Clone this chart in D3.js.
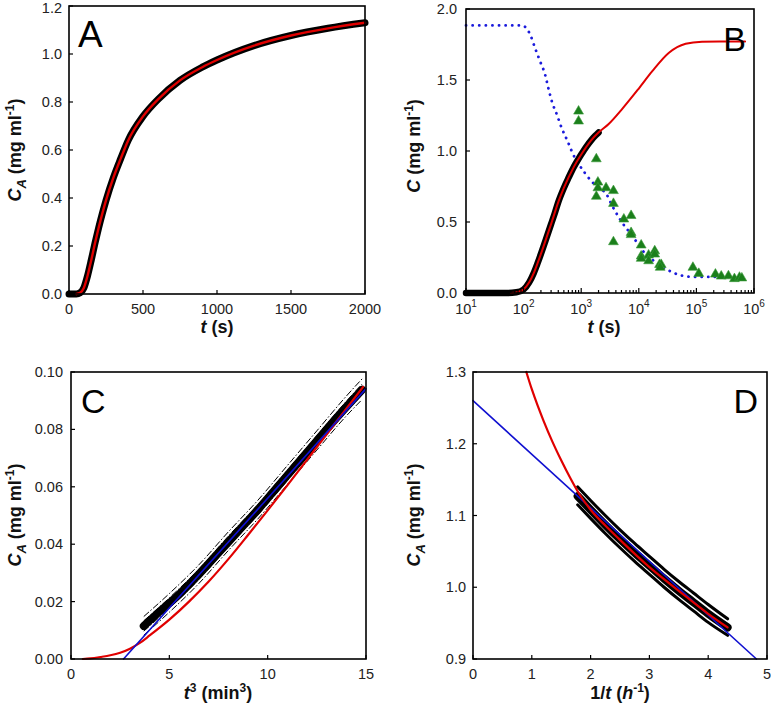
<!DOCTYPE html>
<html><head><meta charset="utf-8">
<script src="https://cdn.jsdelivr.net/npm/d3@7"></script>
<style>
body{margin:0;background:#fff;}
svg{display:block;font-family:"Liberation Sans",Arial,Helvetica,sans-serif;}
</style></head><body>
<svg id="chart" width="771" height="707"></svg>
<script>
// ---------- Panel A data ----------
const aTime = [0,25,50,75,100,125,150,175,200,225,250,300,350,400,500,600,750,900,1000,1250,1500,1750,2000];
const aConc = [0,0,0,0.005,0.025,0.075,0.14,0.21,0.275,0.335,0.39,0.485,0.565,0.64,0.74,0.81,0.89,0.945,0.975,1.035,1.077,1.107,1.13];
const aTicksX = [0,500,1000,1500,2000];
const aTicksY = [0,0.2,0.4,0.6,0.8,1.0,1.2];

// ---------- Panel B data ----------
const bEarlyTime = [10,15,20];
const bEarlyConc = [0,0,0];
const bFitTime = [60,80,100,125,150,175,200,250,300,400,500,750,1000,1500,2000,3000,5000,10000,17000,33000,65000,125000,250000,700000];
const bFitConc = [0,0.008,0.025,0.075,0.14,0.21,0.275,0.39,0.485,0.64,0.74,0.89,0.975,1.077,1.13,1.19,1.29,1.44,1.56,1.69,1.755,1.77,1.772,1.772];
const bDotTime = [10,93,130,158,194,237,270,309,380,460,550,630,690,890,1170,1540,2140,2800,3400,4450,5800,7550,10400,13700,19200,26600,37700,52600,90000,650000];
const bDotConc = [1.884,1.884,1.82,1.725,1.63,1.536,1.44,1.35,1.254,1.16,1.09,1.035,0.995,0.913,0.843,0.783,0.737,0.69,0.62,0.536,0.466,0.41,0.325,0.266,0.22,0.18,0.148,0.125,0.113,0.113];
const bTriTime = [900,900,1830,1950,1950,1830,2700,3630,3630,3630,5500,7350,7350,7350,11000,11000,11000,14800,14800,18900,18900,22900,24500,23500,87000,110000,214000,270000,360000,457000,560000,615000];
const bTriConc = [1.28,1.21,0.944,0.78,0.74,0.68,0.74,0.72,0.63,0.36,0.52,0.545,0.425,0.41,0.337,0.26,0.243,0.266,0.226,0.296,0.273,0.2,0.2,0.18,0.18,0.137,0.132,0.118,0.12,0.1,0.11,0.105];
const bTicksY = [0,0.5,1.0,1.5,2.0];
const bDecades = [1,2,3,4,5,6];

// ---------- Panel C data ----------
const cDataX = [3.7,4.5,5.5,6.5,7.5,8.5,9.5,10.5,11.5,12.5,13.5,14.8];
const cDataY = [0.0115,0.0165,0.0225,0.0295,0.037,0.0445,0.052,0.060,0.068,0.076,0.084,0.0938];
const cFitX = [0.6,1,1.5,2,2.5,3,3.5,4,5,6,7,8,9,10,11,12,13,14,14.85];
const cFitY = [0,0.0002,0.0007,0.0013,0.0022,0.0036,0.0056,0.0082,0.0137,0.02,0.027,0.0348,0.0432,0.0518,0.0605,0.0694,0.0783,0.0872,0.0948];
const cLineX = [2.67,15];
const cLineY = [0,0.0942];
const cBandX = [3.7,5,6.5,8,9.5,11,12.5,14,14.8];
const cBandUpOuter = [0.0148,0.0228,0.0328,0.0443,0.0553,0.0674,0.0795,0.0916,0.0976];
const cBandUpInner = [0.0133,0.0213,0.0313,0.0428,0.0538,0.0658,0.0778,0.0898,0.0958];
const cBandLoInner = [0.0097,0.0177,0.0277,0.0392,0.0502,0.0622,0.0742,0.0862,0.0920];
const cBandLoOuter = [0.0083,0.0163,0.0263,0.0378,0.0488,0.0608,0.0728,0.0847,0.0904];
const cTicksX = [0,5,10,15];
const cTicksY = [0,0.02,0.04,0.06,0.08,0.10];

// ---------- Panel D data ----------
const dDataX = [1.78,2,2.25,2.5,2.75,3,3.25,3.5,3.75,4,4.33];
const dDataY = [1.127,1.108,1.087,1.067,1.048,1.03,1.012,0.995,0.979,0.963,0.944];
const dBandUp = [1.140,1.121,1.100,1.080,1.061,1.043,1.025,1.008,0.992,0.976,0.956];
const dBandLo = [1.115,1.096,1.075,1.055,1.036,1.018,1.000,0.983,0.967,0.951,0.933];
const dFitX = [0.907,1.0,1.1,1.2,1.35,1.5,1.65,1.8,2,2.25,2.5,3,3.5,4,4.33];
const dFitY = [1.30,1.276,1.253,1.232,1.203,1.177,1.153,1.131,1.108,1.086,1.066,1.028,0.995,0.963,0.944];
const dLineX = [0,4.82];
const dLineY = [1.26,0.9];
const dTicksX = [0,1,2,3,4,5];
const dTicksY = [0.9,1.0,1.1,1.2,1.3];

// ---------- drawing ----------
const svg = d3.select("#chart");
const TICK_FS = 14.5, TITLE_FS = 18;
const zip = (xs, ys) => xs.map((x, i) => [x, ys[i]]);

function drawFrame(g, box) {
  g.append("rect").attr("x", box.l).attr("y", box.t)
    .attr("width", box.r - box.l).attr("height", box.b - box.t)
    .attr("fill", "none").attr("stroke", "#000").attr("stroke-width", 1.6);
}
function xTicks(g, box, x, ticks, fmt, len = 4) {
  ticks.forEach(v => {
    const px = x(v);
    g.append("line").attr("x1", px).attr("x2", px).attr("y1", box.b).attr("y2", box.b - len)
      .attr("stroke", "#000").attr("stroke-width", 1.2);
    if (fmt) g.append("text").attr("x", px).attr("y", box.b + 20).attr("text-anchor", "middle")
      .attr("font-size", TICK_FS).attr("fill", "#222").text(fmt(v));
  });
}
function yTicks(g, box, y, ticks, fmt, gap) {
  ticks.forEach(v => {
    const py = y(v);
    g.append("line").attr("x1", box.l).attr("x2", box.l + 4).attr("y1", py).attr("y2", py)
      .attr("stroke", "#000").attr("stroke-width", 1.2);
    g.append("text").attr("x", box.l - gap).attr("y", Math.max(py + 5, 13)).attr("text-anchor", "end")
      .attr("font-size", TICK_FS).attr("fill", "#222").text(fmt(v));
  });
}
function yTitle(g, cx, cy, sub) {
  const t = g.append("text").attr("transform", `translate(${cx},${cy}) rotate(-90)`)
    .attr("text-anchor", "middle").attr("font-size", TITLE_FS).attr("font-weight", "bold").attr("fill", "#111");
  t.append("tspan").attr("font-style", "italic").text("C");
  if (sub) {
    t.append("tspan").attr("font-size", 13).attr("dy", 5).attr("font-style", "italic").text("A");
    t.append("tspan").attr("dy", -5).text(" (mg ml");
  } else {
    t.append("tspan").text(" (mg ml");
  }
  t.append("tspan").attr("font-size", 12).attr("dy", -7).text("-1");
  t.append("tspan").attr("dy", 7).text(")");
}
function letter(g, x, y, s, anchor, fs) {
  g.append("text").attr("x", x).attr("y", y).attr("text-anchor", anchor || "start")
    .attr("font-size", fs).attr("fill", "#000").text(s);
}
function path(g, pts, x, y, color, width, extra) {
  const line = d3.line().x(d => x(d[0])).y(d => y(d[1])).curve(d3.curveMonotoneX);
  const p = g.append("path").attr("d", line(pts)).attr("fill", "none")
    .attr("stroke", color).attr("stroke-width", width)
    .attr("stroke-linecap", "round").attr("stroke-linejoin", "round");
  if (extra) extra(p);
  return p;
}

// ===== Panel A =====
{
  const box = {l: 69, t: 6, r: 365, b: 294};
  const g = svg.append("g");
  const x = d3.scaleLinear().domain([0, 2000]).range([box.l, box.r]);
  const y = d3.scaleLinear().domain([0, 1.2]).range([box.b, box.t]);
  const pts = zip(aTime, aConc);
  path(g, pts, x, y, "#000", 7);
  path(g, pts.filter(d => d[0] >= 50), x, y, "#e00000", 2.4);
  drawFrame(g, box);
  xTicks(g, box, x, aTicksX, d3.format("d"));
  yTicks(g, box, y, aTicksY, d3.format(".1f"), 7);
  letter(g, 78, 47, "A", "start", 37);
  const tt = g.append("text").attr("x", 217).attr("y", 333).attr("text-anchor", "middle")
    .attr("font-size", TITLE_FS).attr("font-weight", "bold").attr("fill", "#111");
  tt.append("tspan").attr("font-style", "italic").text("t");
  tt.append("tspan").text(" (s)");
  yTitle(g, 21, 150, true);
}

// ===== Panel B =====
{
  const box = {l: 466, t: 9, r: 754, b: 293};
  const g = svg.append("g");
  const x = d3.scaleLog().domain([10, 1e6]).range([box.l, box.r]);
  const y = d3.scaleLinear().domain([0, 2.0]).range([box.b, box.t]);
  path(g, zip(bDotTime, bDotConc), x, y, "#1a1adc", 2.8, p => p.attr("stroke-dasharray", "0.1,6.5"));
  const blk = zip(bEarlyTime, bEarlyConc).concat(zip(aTime, aConc).filter(d => d[0] >= 25));
  path(g, blk, x, y, "#000", 6.5);
  path(g, zip(bFitTime, bFitConc), x, y, "#e00000", 2);
  const tri = d3.symbol().type(d3.symbolTriangle).size(42);
  g.selectAll("path.tri").data(zip(bTriTime, bTriConc)).enter().append("path")
    .attr("class", "tri").attr("d", tri)
    .attr("transform", d => `translate(${x(d[0])},${y(d[1])})`)
    .attr("fill", "#1b7f1b").attr("stroke", "#3a9a3a").attr("stroke-width", 0.6);
  drawFrame(g, box);
  const minor = [];
  bDecades.slice(0, -1).forEach(e => { for (let k = 2; k <= 9; k++) minor.push(k * Math.pow(10, e)); });
  xTicks(g, box, x, minor, null, 3);
  bDecades.forEach(e => {
    const px = x(Math.pow(10, e));
    g.append("line").attr("x1", px).attr("x2", px).attr("y1", box.b).attr("y2", box.b - 5)
      .attr("stroke", "#000").attr("stroke-width", 1.2);
    const t = g.append("text").attr("x", px).attr("y", box.b + 21).attr("text-anchor", "middle")
      .attr("font-size", TICK_FS).attr("fill", "#222");
    t.append("tspan").text("10");
    t.append("tspan").attr("font-size", 10).attr("dy", -7).text(e);
  });
  yTicks(g, box, y, bTicksY, d3.format(".1f"), 9);
  letter(g, 746, 51, "B", "end", 34);
  const tt = g.append("text").attr("x", 604).attr("y", 333).attr("text-anchor", "middle")
    .attr("font-size", TITLE_FS).attr("font-weight", "bold").attr("fill", "#111");
  tt.append("tspan").attr("font-style", "italic").text("t");
  tt.append("tspan").text(" (s)");
  yTitle(g, 420, 146, false);
}

// ===== Panel C =====
{
  const box = {l: 71, t: 372, r: 366, b: 659};
  const g = svg.append("g");
  const x = d3.scaleLinear().domain([0, 15]).range([box.l, box.r]);
  const y = d3.scaleLinear().domain([0, 0.10]).range([box.b, box.t]);
  path(g, zip(cDataX, cDataY), x, y, "#000", 8);
  [cBandUpOuter, cBandUpInner, cBandLoInner, cBandLoOuter].forEach(b =>
    path(g, zip(cBandX, b), x, y, "#000", 1, p => p.attr("stroke-dasharray", "7,2,1.5,2").attr("stroke-linecap", "butt")));
  path(g, zip(cFitX, cFitY), x, y, "#e00000", 2.2);
  path(g, zip(cLineX, cLineY), x, y, "#1010d0", 1.6);
  drawFrame(g, box);
  xTicks(g, box, x, cTicksX, d3.format("d"));
  yTicks(g, box, y, cTicksY, d3.format(".2f"), 8);
  letter(g, 81, 413, "C", "start", 34);
  const tt = g.append("text").attr("x", 218).attr("y", 699).attr("text-anchor", "middle")
    .attr("font-size", TITLE_FS).attr("font-weight", "bold").attr("fill", "#111");
  tt.append("tspan").attr("font-style", "italic").text("t");
  tt.append("tspan").attr("font-size", 12).attr("dy", -7).text("3");
  tt.append("tspan").attr("dy", 7).text(" (min");
  tt.append("tspan").attr("font-size", 12).attr("dy", -7).text("3");
  tt.append("tspan").attr("dy", 7).text(")");
  yTitle(g, 21, 515, true);
}

// ===== Panel D =====
{
  const box = {l: 473, t: 372, r: 767, b: 659};
  const g = svg.append("g");
  const x = d3.scaleLinear().domain([0, 5]).range([box.l, box.r]);
  const y = d3.scaleLinear().domain([0.9, 1.3]).range([box.b, box.t]);
  path(g, zip(dDataX, dBandUp), x, y, "#000", 3);
  path(g, zip(dDataX, dBandLo), x, y, "#000", 3);
  path(g, zip(dDataX, dDataY), x, y, "#000", 8);
  path(g, zip(dLineX, dLineY), x, y, "#1010d0", 1.6);
  path(g, zip(dFitX, dFitY), x, y, "#e00000", 2.2);
  drawFrame(g, box);
  xTicks(g, box, x, dTicksX, d3.format("d"));
  yTicks(g, box, y, dTicksY, d3.format(".1f"), 7);
  letter(g, 758, 413, "D", "end", 34);
  const tt = g.append("text").attr("x", 620).attr("y", 699).attr("text-anchor", "middle")
    .attr("font-size", TITLE_FS).attr("font-weight", "bold").attr("fill", "#111");
  tt.append("tspan").text("1/");
  tt.append("tspan").attr("font-style", "italic").text("t");
  tt.append("tspan").text(" (");
  tt.append("tspan").attr("font-style", "italic").text("h");
  tt.append("tspan").attr("font-size", 12).attr("dy", -7).text("-1");
  tt.append("tspan").attr("dy", 7).text(")");
  yTitle(g, 420, 515, true);
}
</script>
</body></html>
